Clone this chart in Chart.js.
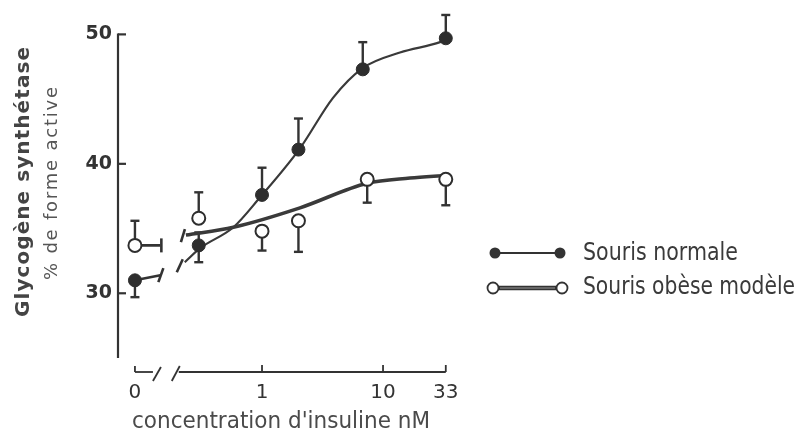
<!DOCTYPE html>
<html><head><meta charset="utf-8">
<script src="https://cdn.jsdelivr.net/npm/chart.js@4/dist/chart.umd.min.js"></script>
<style>html,body{margin:0;padding:0;background:#fff;} #wrap{width:803px;height:434px;position:relative;}</style>
</head><body><div id="wrap"><canvas id="c" width="803" height="434"></canvas></div>
<script>
// ---- data ----
const X_TICK_CONC = [0, 1, 10, 33];
const X_TICK_LABELS = ['0', '1', '10', '33'];
const Y_TICKS = [30, 40, 50];

const NORMAL_CONC = [0, 0.3, 1, 2, 6.8, 33];
const NORMAL_VALUES = [31.0, 33.7, 37.6, 41.1, 47.3, 49.7];
const NORMAL_ERR_UP = [0, 1.0, 2.1, 2.4, 2.1, 1.8];
const NORMAL_ERR_DOWN = [1.3, 1.3, 0, 0, 0, 0];

const OBESE_CONC = [0, 0.3, 1, 2, 7.4, 33];
const OBESE_VALUES = [33.7, 35.8, 34.8, 35.6, 38.8, 38.8];
const OBESE_ERR_UP = [1.9, 2.0, 0, 0, 0, 0];
const OBESE_ERR_DOWN = [0, 0, 1.5, 2.4, 1.8, 2.0];

// fitted curves drawn in the figure
const NORMAL_FIT_CONC = [0.23, 0.31, 0.58, 0.96, 2.06, 3.86, 6.8, 13.8, 29.6, 33];
const NORMAL_FIT_VALUES = [32.4, 33.5, 35.1, 37.4, 41.2, 45.1, 47.4, 48.6, 49.4, 49.6];
const OBESE_FIT_CONC = [0.235, 0.58, 2.06, 7.4, 16.7, 33];
const OBESE_FIT_VALUES = [34.5, 35.1, 36.6, 38.5, 38.9, 39.1];

// short segments from the 0 nM points to the axis break
const NORMAL_ZERO_VALUES = [31.0, 31.4];
const OBESE_ZERO_VALUES = [33.7, 33.7];

const LEGEND_LABELS = ['Souris normale', 'Souris obèse modèle'];
const Y_TITLE = 'Glycogène synthétase';
const Y_SUBTITLE = '% de forme active';
const X_TITLE = "concentration d'insuline nM";

// ---- broken log axis: 0 nM sits left of the break ----
const ZERO_POS = -1.05;
const BREAK_POS = -0.84;
const pos = c => c === 0 ? ZERO_POS : Math.log10(c);

const INK = '#333';

function pts(conc, vals) { return conc.map((c, i) => ({x: pos(c), y: vals[i]})); }

function fitText(ctx, text, left, y, target) {
  ctx.letterSpacing = '0px';
  const w = ctx.measureText(text).width;
  if (w > target) {
    ctx.fillText(text, left, y, target);
  } else {
    const sp = (target - w) / Math.max(1, text.length - 1);
    ctx.letterSpacing = sp + 'px';
    ctx.fillText(text, left, y);
    ctx.letterSpacing = '0px';
  }
}

function line(ctx, x1, y1, x2, y2) { ctx.beginPath(); ctx.moveTo(x1, y1); ctx.lineTo(x2, y2); ctx.stroke(); }

const deco = {
  id: 'deco',
  beforeDatasetsDraw(chart) {
    const ctx = chart.ctx, xs = chart.scales.x, ys = chart.scales.y;
    ctx.save();
    ctx.strokeStyle = INK; ctx.lineWidth = 2.4; ctx.lineCap = 'butt';
    const bars = (conc, vals, up, down) => {
      conc.forEach((c, i) => {
        const x = xs.getPixelForValue(pos(c)), y = ys.getPixelForValue(vals[i]);
        if (up[i] > 0) { const yt = ys.getPixelForValue(vals[i] + up[i]); line(ctx, x, y, x, yt); line(ctx, x - 4.5, yt, x + 4.5, yt); }
        if (down[i] > 0) { const yb = ys.getPixelForValue(vals[i] - down[i]); line(ctx, x, y, x, yb); line(ctx, x - 4.5, yb, x + 4.5, yb); }
      });
    };
    bars(NORMAL_CONC, NORMAL_VALUES, NORMAL_ERR_UP, NORMAL_ERR_DOWN);
    bars(OBESE_CONC, OBESE_VALUES, OBESE_ERR_UP, OBESE_ERR_DOWN);
    // break caps on the 0 nM segments
    ctx.lineWidth = 2.6;
    let bx = xs.getPixelForValue(BREAK_POS), by = ys.getPixelForValue(NORMAL_ZERO_VALUES[1]);
    line(ctx, bx - 2, by + 7, bx + 3, by - 7);
    by = ys.getPixelForValue(OBESE_ZERO_VALUES[1]);
    line(ctx, bx + 1, by - 7, bx + 1, by + 7);
    // break marks at the start of the fitted curves
    let sx = xs.getPixelForValue(pos(NORMAL_FIT_CONC[0])), sy = ys.getPixelForValue(NORMAL_FIT_VALUES[0]);
    line(ctx, sx - 8, sy + 10, sx - 2, sy - 3);
    sx = xs.getPixelForValue(pos(OBESE_FIT_CONC[0])); sy = ys.getPixelForValue(OBESE_FIT_VALUES[0]);
    line(ctx, sx - 5, sy + 7, sx - 1, sy - 6);
    ctx.restore();
  },
  afterDraw(chart) {
    const ctx = chart.ctx, xs = chart.scales.x, ys = chart.scales.y, ca = chart.chartArea;
    ctx.save();
    ctx.strokeStyle = INK; ctx.fillStyle = INK;
    // y axis
    ctx.lineWidth = 2.2;
    const ax = ca.left;
    line(ctx, ax, ys.getPixelForValue(Y_TICKS[Y_TICKS.length - 1]) - 1, ax, ca.bottom);
    Y_TICKS.forEach(v => { const y = ys.getPixelForValue(v); line(ctx, ax, y, ax + 8, y); });
    // x axis (detached, broken)
    const xy = ca.bottom + 14;
    ctx.lineWidth = 1.8;
    const x0 = xs.getPixelForValue(ZERO_POS);
    line(ctx, x0, xy - 6, x0, xy);
    line(ctx, x0, xy, x0 + 18, xy);
    line(ctx, x0 + 18, xy + 9, x0 + 26, xy - 5);
    const xsStart = xs.getPixelForValue(pos(NORMAL_FIT_CONC[0])) - 5;
    line(ctx, xsStart - 8, xy + 9, xsStart, xy - 6);
    const xEnd = xs.getPixelForValue(pos(X_TICK_CONC[X_TICK_CONC.length - 1]));
    line(ctx, xsStart - 1, xy, xEnd, xy);
    X_TICK_CONC.slice(1).forEach(c => { const x = xs.getPixelForValue(pos(c)); line(ctx, x, xy, x, xy - 7); });

    // titles
    ctx.fillStyle = '#444';
    ctx.textBaseline = 'alphabetic'; ctx.textAlign = 'left';
    ctx.save();
    ctx.translate(29, 182); ctx.rotate(-Math.PI / 2);
    ctx.font = 'bold 20px "DejaVu Sans"';
    fitText(ctx, Y_TITLE, -135, 0, 270);
    ctx.restore();
    ctx.save();
    ctx.fillStyle = '#555';
    ctx.translate(57, 183); ctx.rotate(-Math.PI / 2);
    ctx.font = '18px "DejaVu Sans"';
    fitText(ctx, Y_SUBTITLE, -97, 0, 193);
    ctx.restore();
    ctx.fillStyle = '#4a4a4a';
    ctx.font = '23px "DejaVu Sans"';
    fitText(ctx, X_TITLE, 132, 428, 298);

    // legend
    ctx.strokeStyle = INK; ctx.fillStyle = INK;
    ctx.lineWidth = 2.2;
    line(ctx, 495, 253, 560, 253);
    [495, 560].forEach(x => { ctx.beginPath(); ctx.arc(x, 253, 5.5, 0, Math.PI * 2); ctx.fill(); });
    ctx.lineWidth = 4.5;
    line(ctx, 493, 288, 562, 288);
    ctx.strokeStyle = '#999'; ctx.lineWidth = 1.2;
    line(ctx, 500, 288, 555, 288);
    ctx.strokeStyle = INK; ctx.lineWidth = 1.8;
    [493, 562].forEach(x => { ctx.beginPath(); ctx.arc(x, 288, 5.5, 0, Math.PI * 2); ctx.fillStyle = '#fff'; ctx.fill(); ctx.stroke(); });
    ctx.fillStyle = '#3a3a3a';
    ctx.font = '25px "DejaVu Sans"';
    fitText(ctx, LEGEND_LABELS[0], 583, 260, 155);
    fitText(ctx, LEGEND_LABELS[1], 583, 294, 212);
    ctx.restore();
  }
};

new Chart(document.getElementById('c'), {
  type: 'scatter',
  data: {
    datasets: [
      { label: LEGEND_LABELS[0], data: pts(NORMAL_CONC, NORMAL_VALUES), showLine: false,
        pointRadius: 6.5, pointBackgroundColor: '#2e2e2e', pointBorderColor: '#2e2e2e', pointBorderWidth: 1 },
      { label: LEGEND_LABELS[1], data: pts(OBESE_CONC, OBESE_VALUES), showLine: false,
        pointRadius: 6.5, pointBackgroundColor: '#fff', pointBorderColor: '#2e2e2e', pointBorderWidth: 2 },
      { label: 'fit normale', data: pts(NORMAL_FIT_CONC, NORMAL_FIT_VALUES), showLine: true, pointRadius: 0,
        borderColor: '#3a3a3a', borderWidth: 2.2, cubicInterpolationMode: 'monotone', fill: false },
      { label: 'fit obèse', data: pts(OBESE_FIT_CONC, OBESE_FIT_VALUES), showLine: true, pointRadius: 0,
        borderColor: '#3a3a3a', borderWidth: 3.6, cubicInterpolationMode: 'monotone', fill: false },
      { label: 'zero normale', data: [{x: ZERO_POS, y: NORMAL_ZERO_VALUES[0]}, {x: BREAK_POS, y: NORMAL_ZERO_VALUES[1]}],
        showLine: true, pointRadius: 0, borderColor: '#333', borderWidth: 2.6 },
      { label: 'zero obèse', data: [{x: ZERO_POS, y: OBESE_ZERO_VALUES[0]}, {x: BREAK_POS, y: OBESE_ZERO_VALUES[1]}],
        showLine: true, pointRadius: 0, borderColor: '#333', borderWidth: 2.6 }
    ]
  },
  options: {
    responsive: false, animation: false, devicePixelRatio: 1,
    layout: { padding: { left: 0, top: 7, right: 343, bottom: 0 } },
    plugins: { legend: { display: false }, tooltip: { enabled: false } },
    scales: {
      x: {
        type: 'linear', min: -1.19, max: 1.636,
        grid: { display: false, drawTicks: false }, border: { display: false },
        afterFit: s => { s.height = 76; },
        afterBuildTicks: s => { s.ticks = X_TICK_CONC.map(c => ({value: pos(c)})); },
        ticks: { padding: 23, color: '#333', font: { family: 'DejaVu Sans', size: 20 },
                 callback: (v, i) => X_TICK_LABELS[i] }
      },
      y: {
        type: 'linear', min: 25, max: 52,
        grid: { display: false, drawTicks: false }, border: { display: false },
        afterFit: s => { s.width = 118; },
        afterBuildTicks: s => { s.ticks = Y_TICKS.map(v => ({value: v})); },
        ticks: { padding: 6, color: '#333', font: { family: 'DejaVu Sans', size: 19, weight: 'bold', lineHeight: 0.05 } }
      }
    }
  },
  plugins: [deco]
});
</script></body></html>
